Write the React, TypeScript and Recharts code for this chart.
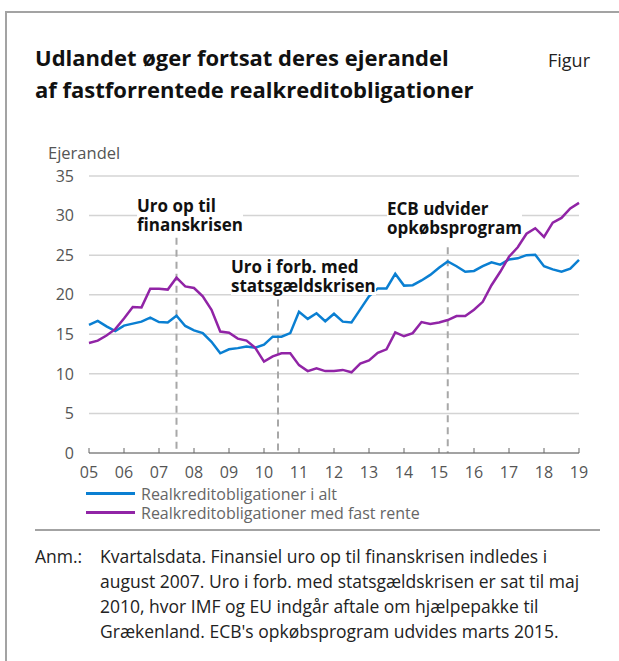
import React from 'react';
import { LineChart, Line, XAxis, YAxis, CartesianGrid, ReferenceLine } from 'recharts';

// quarterly observations, 2005 Q1 .. 2019 Q1
const years = [2005, 2006, 2007, 2008, 2009, 2010, 2011, 2012, 2013, 2014, 2015, 2016, 2017, 2018, 2019];
const yTicks = [0, 5, 10, 15, 20, 25, 30, 35];

const totalShare = [
    16.2, 16.7, 16.0, 15.4,
    16.1, 16.35, 16.6, 17.1,
    16.55, 16.5, 17.35, 16.05,
    15.5, 15.15, 14.05, 12.6,
    13.1, 13.25, 13.45, 13.3,
    13.7, 14.7, 14.7, 15.15,
    17.85, 16.95, 17.65, 16.65,
    17.6, 16.6, 16.5, 18.15,
    19.8, 20.8, 20.8, 22.65,
    21.15, 21.2, 21.8, 22.5,
    23.4, 24.2, 23.6, 22.9,
    23.0, 23.6, 24.1, 23.8,
    24.45, 24.6, 25.0, 25.05,
    23.6, 23.2, 22.9, 23.3,
    24.4,
];

const fixedRateShare = [
    13.9, 14.2, 14.85, 15.65,
    17.0, 18.45, 18.4, 20.75,
    20.75, 20.65, 22.15, 21.05,
    20.85, 19.8, 18.1, 15.35,
    15.2, 14.45, 14.2, 13.3,
    11.55, 12.2, 12.6, 12.6,
    11.1, 10.35, 10.7, 10.35,
    10.35, 10.5, 10.2, 11.3,
    11.7, 12.65, 13.1, 15.25,
    14.75, 15.15, 16.55, 16.3,
    16.5, 16.8, 17.3, 17.3,
    18.1, 19.1, 21.2, 22.9,
    24.8, 26.0, 27.7, 28.4,
    27.3, 29.1, 29.7, 30.9,
    31.6,
];

const seriesNames = ['Realkreditobligationer i alt', 'Realkreditobligationer med fast rente'];

// crisis / policy markers (decimal year)
const eventDates = [2007.5, 2010.4, 2015.25];
const eventLabels = [
    ['Uro op til', 'finanskrisen'],
    ['Uro i forb. med', 'statsgældskrisen'],
    ['ECB udvider', 'opkøbsprogram'],
];

const noteLines = [
    'Kvartalsdata. Finansiel uro op til finanskrisen indledes i',
    'august 2007. Uro i forb. med statsgældskrisen er sat til maj',
    '2010, hvor IMF og EU indgår aftale om hjælpepakke til',
    "Grækenland. ECB's opkøbsprogram udvides marts 2015.",
];

const data = totalShare.map((v, i) => ({
    t: years[0] + i / 4,
    total: v,
    fixed: fixedRateShare[i],
}));

const FONT = '"Open Sans", "Noto Sans", sans-serif';
const BLUE = '#0a7fd2';
const PURPLE = '#9124a6';
const GREY_TEXT = '#555555';

// where each annotation sits on screen, and how high its dashed line reaches
const labelPos = [
    { left: 137, top: 196, lineTop: 27.2 },
    { left: 231, top: 257, lineTop: 19.4 },
    { left: 387, top: 199, lineTop: 26.0 },
];

export default function App() {
    return (
        <div style={{ position: 'absolute', left: 0, top: 0, width: 619, height: 661, background: '#fff', fontFamily: FONT, overflow: 'hidden' }}>
            {/* frame */}
            <div style={{ position: 'absolute', left: 5, top: 11, width: 614, height: 2, background: '#a3a3a3' }} />
            <div style={{ position: 'absolute', left: 5, top: 11, width: 2, height: 650, background: '#a3a3a3' }} />

            <div style={{ position: 'absolute', left: 35, top: 41, fontSize: 22, fontWeight: 700, lineHeight: '32px', color: '#111', whiteSpace: 'nowrap' }}>
                Udlandet øger fortsat deres ejerandel
                <br />
                af fastforrentede realkreditobligationer
            </div>
            <div style={{ position: 'absolute', left: 548, top: 48, fontSize: 18, color: '#222' }}>Figur</div>
            <div style={{ position: 'absolute', left: 48, top: 141, fontSize: 16.5, color: GREY_TEXT }}>Ejerandel</div>

            <div style={{ position: 'absolute', left: 0, top: 0 }}>
                <LineChart width={619} height={661} data={data} margin={{ top: 176, right: 40, bottom: 0, left: 0 }}>
                    <CartesianGrid vertical={false} stroke="#d4d4d4" strokeWidth={1.5} />
                    <XAxis
                        type="number"
                        dataKey="t"
                        domain={[2005, 2019]}
                        ticks={years}
                        tickFormatter={(v: number) => String(v).slice(2)}
                        height={208}
                        stroke="#666"
                        tickSize={-5}
                        tickMargin={19}
                        tick={{ fontSize: 16, fill: GREY_TEXT, fontFamily: FONT }}
                        interval={0}
                    />
                    <YAxis
                        domain={[0, 35]}
                        ticks={yTicks}
                        width={89}
                        axisLine={false}
                        tickLine={false}
                        tickSize={0}
                        tickMargin={15}
                        tick={{ fontSize: 16, fill: GREY_TEXT, fontFamily: FONT }}
                        interval={0}
                    />
                    {eventDates.map((d, i) => (
                        <ReferenceLine
                            key={d}
                            segment={[{ x: d, y: labelPos[i].lineTop }, { x: d, y: 0 }]}
                            stroke="#a8a8a8"
                            strokeWidth={2}
                            strokeDasharray="7 5"
                        />
                    ))}
                    <Line type="linear" dataKey="total" stroke={BLUE} strokeWidth={2.5} dot={false} isAnimationActive={false} />
                    <Line type="linear" dataKey="fixed" stroke={PURPLE} strokeWidth={2.5} dot={false} isAnimationActive={false} />
                </LineChart>
            </div>

            {/* event annotations */}
            {eventLabels.map((lines, i) => (
                <div
                    key={i}
                    style={{
                        position: 'absolute',
                        left: labelPos[i].left,
                        top: labelPos[i].top,
                        fontSize: 17,
                        fontWeight: 700,
                        lineHeight: '19px',
                        color: '#111',
                        background: '#fff',
                        whiteSpace: 'nowrap',
                    }}
                >
                    {lines[0]}
                    <br />
                    {lines[1]}
                </div>
            ))}

            {/* legend */}
            {seriesNames.map((name, i) => (
                <div key={name} style={{ position: 'absolute', left: 86, top: 484 + i * 19, height: 19, display: 'flex', alignItems: 'center' }}>
                    <div style={{ width: 49, height: 2.5, background: i === 0 ? BLUE : PURPLE }} />
                    <span style={{ marginLeft: 6, fontSize: 16, color: '#666', whiteSpace: 'nowrap' }}>{name}</span>
                </div>
            ))}

            <div style={{ position: 'absolute', left: 35, top: 529, width: 565, height: 2, background: '#a3a3a3' }} />

            <div style={{ position: 'absolute', left: 35, top: 544, fontSize: 17.5, lineHeight: '25px', color: '#222' }}>Anm.:</div>
            <div style={{ position: 'absolute', left: 100, top: 544, fontSize: 17.5, lineHeight: '25px', color: '#222', whiteSpace: 'nowrap' }}>
                {noteLines.map((l) => (
                    <div key={l}>{l}</div>
                ))}
            </div>
        </div>
    );
}
